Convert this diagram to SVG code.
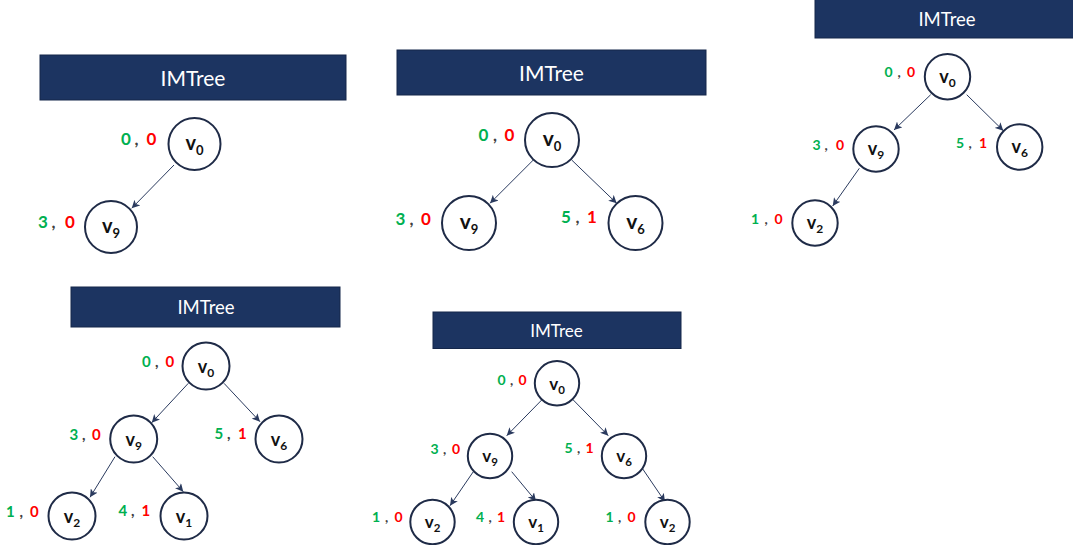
<svg xmlns="http://www.w3.org/2000/svg" width="1073" height="545" viewBox="0 0 1073 545">
<defs>
<marker id="ah" viewBox="0 0 10 10" refX="10" refY="5" markerWidth="8" markerHeight="8" markerUnits="userSpaceOnUse" orient="auto">
<path d="M0,0 L10,5 L0,10 L2.5,5 z" fill="#2a3a5e"/>
</marker>
<style>
.hdr{fill:#1c3461;stroke:#15274a;stroke-width:1}
.ht{fill:#ffffff;font-family:Lato,"Open Sans",sans-serif;text-anchor:middle}
.nd{fill:#ffffff;stroke:#1f2b47;stroke-width:2}
.nl{font-family:Lato,"Open Sans",sans-serif;font-weight:700;fill:#111111;text-anchor:middle}
.lb{font-family:Lato,"Open Sans",sans-serif;font-weight:700}
.g{fill:#00B050}.r{fill:#FF0000}.c{fill:#404040}
.ed{stroke:#2a3a5e;stroke-width:1;fill:none;marker-end:url(#ah)}
</style>
</defs>
<rect width="1073" height="545" fill="#ffffff"/>

<!-- Panel 1 -->
<g id="panel1">
<g id="p1-header"><rect class="hdr" x="40" y="55" width="306" height="45"/><text class="ht" x="193" y="86" font-size="21">IMTree</text></g>
<g id="p1-connectors"><line class="ed" x1="174" y1="165" x2="131.7" y2="208.3"/></g>
<g id="p1-v0"><circle class="nd" cx="194.5" cy="144" r="26"/><text class="nl" x="194.5" y="150" font-size="20">v<tspan font-size="13" dy="5">0</tspan></text>
<text class="lb" y="145" font-size="17"><tspan class="g" x="121">0</tspan><tspan class="c" x="134.5">,</tspan><tspan class="r" x="146.5">0</tspan></text></g>
<g id="p1-v9"><circle class="nd" cx="111" cy="227" r="26"/><text class="nl" x="111" y="233" font-size="20">v<tspan font-size="13" dy="5">9</tspan></text>
<text class="lb" y="228" font-size="17"><tspan class="g" x="38">3</tspan><tspan class="c" x="51.5">,</tspan><tspan class="r" x="65">0</tspan></text></g>
</g>

<!-- Panel 2 -->
<g id="panel2">
<g id="p2-header"><rect class="hdr" x="397" y="50" width="309" height="45"/><text class="ht" x="551.5" y="81" font-size="21">IMTree</text></g>
<g id="p2-connectors">
<line class="ed" x1="533.3" y1="160" x2="490" y2="203.3"/>
<line class="ed" x1="571.7" y1="160" x2="616.7" y2="203.3"/>
</g>
<g id="p2-v0"><circle class="nd" cx="552" cy="140" r="27"/><text class="nl" x="552" y="146" font-size="21">v<tspan font-size="13" dy="5">0</tspan></text>
<text class="lb" y="141" font-size="17"><tspan class="g" x="478.5">0</tspan><tspan class="c" x="493">,</tspan><tspan class="r" x="504.5">0</tspan></text></g>
<g id="p2-v9"><circle class="nd" cx="469" cy="223" r="27"/><text class="nl" x="469" y="229" font-size="21">v<tspan font-size="13" dy="5">9</tspan></text>
<text class="lb" y="225" font-size="17"><tspan class="g" x="395.5">3</tspan><tspan class="c" x="409.5">,</tspan><tspan class="r" x="421">0</tspan></text></g>
<g id="p2-v6"><circle class="nd" cx="635.5" cy="223" r="27"/><text class="nl" x="635.5" y="229" font-size="21">v<tspan font-size="13" dy="5">6</tspan></text>
<text class="lb" y="223" font-size="17"><tspan class="g" x="561">5</tspan><tspan class="c" x="575.5">,</tspan><tspan class="r" x="587">1</tspan></text></g>
</g>

<!-- Panel 3 -->
<g id="panel3">
<g id="p3-header"><rect class="hdr" x="815" y="-1" width="259" height="39"/><text class="ht" x="947" y="26" font-size="18.5">IMTree</text></g>
<g id="p3-connectors">
<line class="ed" x1="930.7" y1="94.7" x2="894" y2="130"/>
<line class="ed" x1="966.7" y1="94.7" x2="1003.3" y2="130.7"/>
<line class="ed" x1="859.3" y1="168.3" x2="832.7" y2="206"/>
</g>
<g id="p3-v0"><circle class="nd" cx="947.5" cy="76.7" r="22.7"/><text class="nl" x="947.5" y="83" font-size="18">v<tspan font-size="12" dy="4">0</tspan></text>
<text class="lb" y="77" font-size="14"><tspan class="g" x="884.5">0</tspan><tspan class="c" x="897.5">,</tspan><tspan class="r" x="907">0</tspan></text></g>
<g id="p3-v9"><circle class="nd" cx="876" cy="149" r="22.7"/><text class="nl" x="876" y="155.3" font-size="18">v<tspan font-size="12" dy="4">9</tspan></text>
<text class="lb" y="150" font-size="14"><tspan class="g" x="812.5">3</tspan><tspan class="c" x="824.5">,</tspan><tspan class="r" x="836">0</tspan></text></g>
<g id="p3-v6"><circle class="nd" cx="1019.7" cy="147" r="22.7"/><text class="nl" x="1019.7" y="153.3" font-size="18">v<tspan font-size="12" dy="4">6</tspan></text>
<text class="lb" y="148" font-size="14"><tspan class="g" x="956">5</tspan><tspan class="c" x="968.5">,</tspan><tspan class="r" x="979">1</tspan></text></g>
<g id="p3-v2"><circle class="nd" cx="815" cy="223" r="22.7"/><text class="nl" x="815" y="229.3" font-size="18">v<tspan font-size="12" dy="4">2</tspan></text>
<text class="lb" y="224" font-size="14"><tspan class="g" x="751">1</tspan><tspan class="c" x="764.5">,</tspan><tspan class="r" x="774.5">0</tspan></text></g>
</g>

<!-- Panel 4 -->
<g id="panel4">
<g id="p4-header"><rect class="hdr" x="71" y="287" width="269" height="40"/><text class="ht" x="206" y="314" font-size="18.5">IMTree</text></g>
<g id="p4-connectors">
<line class="ed" x1="188.3" y1="383.3" x2="151.7" y2="422.7"/>
<line class="ed" x1="224" y1="383.3" x2="260" y2="421.7"/>
<line class="ed" x1="115" y1="456.7" x2="90" y2="497.3"/>
<line class="ed" x1="152.7" y1="456.7" x2="183.3" y2="491.7"/>
</g>
<g id="p4-v0"><circle class="nd" cx="206" cy="366" r="23.5"/><text class="nl" x="206" y="372.5" font-size="18">v<tspan font-size="12" dy="4">0</tspan></text>
<text class="lb" y="367" font-size="15"><tspan class="g" x="142">0</tspan><tspan class="c" x="155">,</tspan><tspan class="r" x="165.5">0</tspan></text></g>
<g id="p4-v9"><circle class="nd" cx="133.7" cy="439" r="23.5"/><text class="nl" x="133.7" y="445.5" font-size="18">v<tspan font-size="12" dy="4">9</tspan></text>
<text class="lb" y="440" font-size="15"><tspan class="g" x="69.5">3</tspan><tspan class="c" x="82">,</tspan><tspan class="r" x="92">0</tspan></text></g>
<g id="p4-v6"><circle class="nd" cx="279" cy="439" r="23.5"/><text class="nl" x="279" y="445.5" font-size="18">v<tspan font-size="12" dy="4">6</tspan></text>
<text class="lb" y="439" font-size="15"><tspan class="g" x="214.5">5</tspan><tspan class="c" x="227">,</tspan><tspan class="r" x="238">1</tspan></text></g>
<g id="p4-v2"><circle class="nd" cx="72" cy="516" r="23.5"/><text class="nl" x="72" y="522.5" font-size="18">v<tspan font-size="12" dy="4">2</tspan></text>
<text class="lb" y="516.5" font-size="15"><tspan class="g" x="6">1</tspan><tspan class="c" x="19.5">,</tspan><tspan class="r" x="30">0</tspan></text></g>
<g id="p4-v1"><circle class="nd" cx="184" cy="516" r="23.5"/><text class="nl" x="184" y="522.5" font-size="18">v<tspan font-size="12" dy="4">1</tspan></text>
<text class="lb" y="516" font-size="15"><tspan class="g" x="118.5">4</tspan><tspan class="c" x="131">,</tspan><tspan class="r" x="141.5">1</tspan></text></g>
</g>

<!-- Panel 5 -->
<g id="panel5">
<g id="p5-header"><rect class="hdr" x="433" y="312" width="248" height="36.5"/><text class="ht" x="556.5" y="337" font-size="17">IMTree</text></g>
<g id="p5-connectors">
<line class="ed" x1="541.7" y1="400" x2="506.7" y2="435.7"/>
<line class="ed" x1="573.3" y1="400" x2="608.3" y2="435.7"/>
<line class="ed" x1="473.3" y1="471.7" x2="450" y2="505.7"/>
<line class="ed" x1="511.7" y1="471.7" x2="536" y2="501"/>
<line class="ed" x1="640" y1="465" x2="665" y2="501.7"/>
</g>
<g id="p5-v0"><circle class="nd" cx="557" cy="383.3" r="22.2"/><text class="nl" x="557" y="389.5" font-size="17">v<tspan font-size="11.5" dy="4">0</tspan></text>
<text class="lb" y="385" font-size="14"><tspan class="g" x="497.5">0</tspan><tspan class="c" x="510">,</tspan><tspan class="r" x="518.5">0</tspan></text></g>
<g id="p5-v9"><circle class="nd" cx="490" cy="456" r="22.2"/><text class="nl" x="490" y="462.2" font-size="17">v<tspan font-size="11.5" dy="4">9</tspan></text>
<text class="lb" y="454" font-size="14"><tspan class="g" x="430.5">3</tspan><tspan class="c" x="443">,</tspan><tspan class="r" x="452">0</tspan></text></g>
<g id="p5-v6"><circle class="nd" cx="624" cy="456" r="22.2"/><text class="nl" x="624" y="462.2" font-size="17">v<tspan font-size="11.5" dy="4">6</tspan></text>
<text class="lb" y="453" font-size="14"><tspan class="g" x="564.5">5</tspan><tspan class="c" x="577">,</tspan><tspan class="r" x="585.5">1</tspan></text></g>
<g id="p5-v2a"><circle class="nd" cx="432.5" cy="522" r="22.2"/><text class="nl" x="432.5" y="528.2" font-size="17">v<tspan font-size="11.5" dy="4">2</tspan></text>
<text class="lb" y="522" font-size="14"><tspan class="g" x="372">1</tspan><tspan class="c" x="385">,</tspan><tspan class="r" x="394.5">0</tspan></text></g>
<g id="p5-v1"><circle class="nd" cx="536" cy="522" r="22.2"/><text class="nl" x="536" y="528.2" font-size="17">v<tspan font-size="11.5" dy="4">1</tspan></text>
<text class="lb" y="522" font-size="14"><tspan class="g" x="476">4</tspan><tspan class="c" x="488.5">,</tspan><tspan class="r" x="497">1</tspan></text></g>
<g id="p5-v2b"><circle class="nd" cx="667.5" cy="522" r="22.2"/><text class="nl" x="667.5" y="528.2" font-size="17">v<tspan font-size="11.5" dy="4">2</tspan></text>
<text class="lb" y="522" font-size="14"><tspan class="g" x="605.5">1</tspan><tspan class="c" x="618">,</tspan><tspan class="r" x="627.5">0</tspan></text></g>
</g>
</svg>
